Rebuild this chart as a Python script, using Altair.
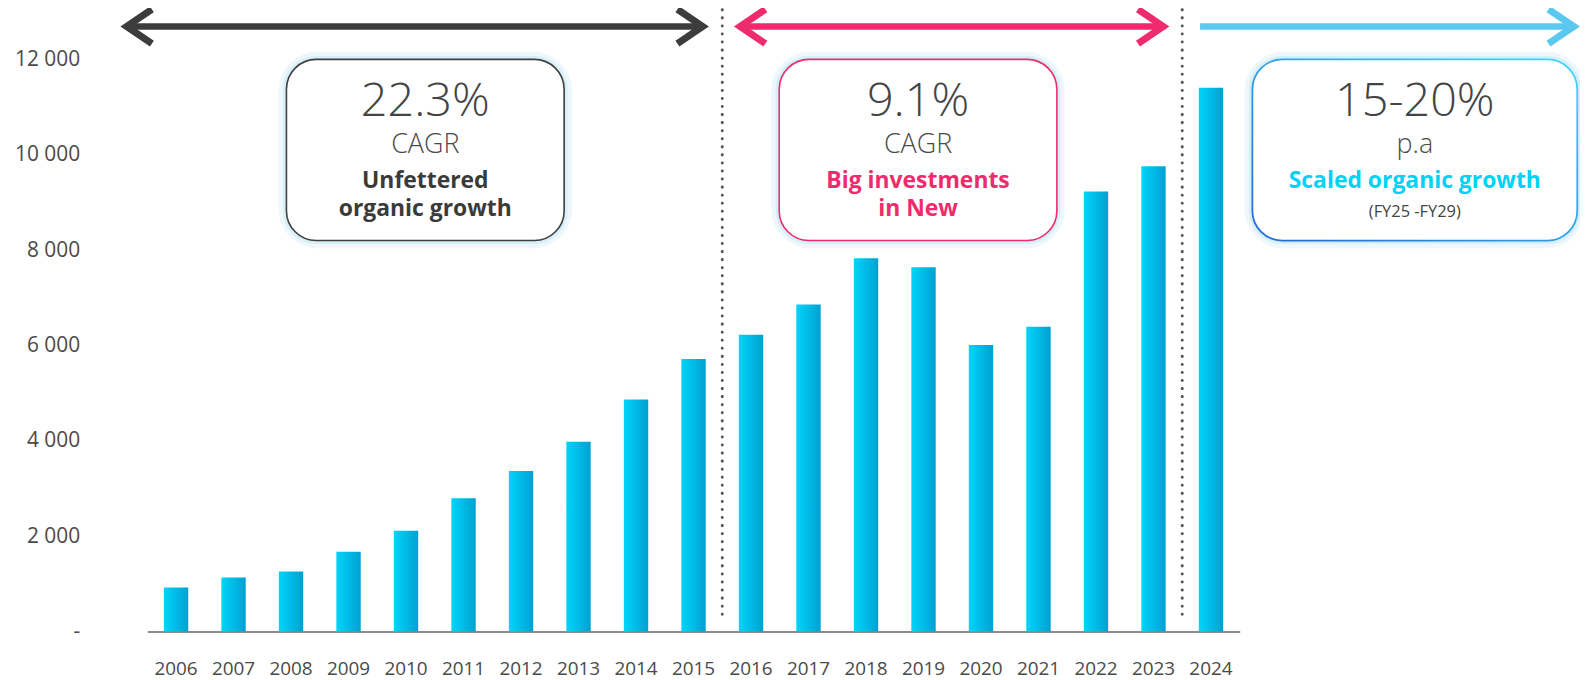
import altair as alt
import pandas as pd

# ---------------- data ----------------
years = [str(y) for y in range(2006, 2025)]
revenue = [925, 1135, 1260, 1672, 2116, 2794, 3365, 3979, 4868, 5714,
           6222, 6857, 7831, 7640, 6011, 6392, 9228, 9757, 11407]
y_ticks = [0, 2000, 4000, 6000, 8000, 10000, 12000]

# annotation geometry, expressed in axis units (years / values)
phase_dividers = [2015.5, 2023.5]
arrow_names = ["past", "invest", "future"]
arrow_start = [2005.14, 2015.81, 2023.81]
arrow_end = [2015.16, 2023.17, 2030.31]
arrow_colors = ["#3c3c3c", "#EE2B6C", "#5BC8F0"]
arrow_left_head = [True, True, False]
arrow_level = 12690

box_left = [2007.92, 2016.49, 2024.72]
box_right = [2012.75, 2021.32, 2030.37]
box_bottom = 8200
box_top = 12000
box_pct = ["22.3%", "9.1%", "15-20%"]
box_unit = ["CAGR", "CAGR", "p.a"]
box_line1 = ["Unfettered", "Big investments", "Scaled organic growth"]
box_line2 = ["organic growth", "in New", ""]
box_note = ["", "", "(FY25 -FY29)"]
box_accent = ["#3a3a3a", "#EE2B6C", "#00D2F6"]
box_border = ["#3f3f3f", "#EE2B6C", "#2E8FE0"]

pct_level = 11100
unit_level = 10210
line1_level = 9453
line2_level = 8869
note_level = 8790

FONT = "Open Sans"

# ---------------- tables ----------------
bars_df = pd.DataFrame({"year": years, "value": revenue})

div_df = pd.DataFrame({"x": phase_dividers, "y": [13040] * 2, "y2": [210] * 2})

shaft_df = pd.DataFrame({
    "name": arrow_names,
    "x": [s + 0.06 if l else s for s, l in zip(arrow_start, arrow_left_head)],
    "x2": [e - 0.06 for e in arrow_end],
    "y": [arrow_level] * 3,
    "color": arrow_colors,
})

head_len = 0.44
head_half = 360
head_rows = []
for n, s, e, c, lh in zip(arrow_names, arrow_start, arrow_end, arrow_colors, arrow_left_head):
    heads = [("R", e, -1)]
    if lh:
        heads.append(("L", s, 1))
    for side, tip, sign in heads:
        pts = [(tip + sign * head_len, arrow_level + head_half),
               (tip, arrow_level),
               (tip + sign * head_len, arrow_level - head_half)]
        for i, (px, py) in enumerate(pts):
            head_rows.append({"id": n + side, "x": px, "y": py, "o": i, "color": c})
head_df = pd.DataFrame(head_rows)

box_df = pd.DataFrame({
    "x": box_left, "x2": box_right,
    "y": [box_bottom] * 3, "y2": [box_top] * 3,
    "border": box_border,
    "cx": [(a + b) / 2 for a, b in zip(box_left, box_right)],
    "pct": box_pct, "unit": box_unit,
    "l1": box_line1, "l2": box_line2, "note": box_note,
    "accent": box_accent,
})

# ---------------- scales / axes ----------------
xq = alt.Scale(domain=[2005.5, 2024.5], nice=False, zero=False)
yq = alt.Scale(domain=[0, 13000], nice=False, zero=True)

y_axis = alt.Axis(title=None, values=y_ticks, domain=False, ticks=False,
                  tickSize=0, grid=False, labelPadding=68,
                  labelFont=FONT, labelFontSize=21, labelColor="#4a4a4a",
                  labelExpr="datum.value == 0 ? '-' : replace(format(datum.value, ','), ',', ' ')")

bar_gradient = alt.LinearGradient(
    gradient="linear", x1=0, x2=1, y1=0, y2=0,
    stops=[alt.GradientStop(color="#00D5F9", offset=0),
           alt.GradientStop(color="#00A0D2", offset=1)])

bars = alt.Chart(bars_df).mark_bar(fill=bar_gradient).encode(
    x=alt.X("year:N", sort=years,
            scale=alt.Scale(paddingInner=0.576, paddingOuter=0.288),
            axis=alt.Axis(title=None, labelAngle=0, ticks=False, tickSize=0,
                          domainColor="#666666", domainWidth=1.6,
                          labelPadding=37, labelBaseline="middle",
                          labelFont=FONT, labelFontSize=19, labelColor="#4a4a4a")),
    y=alt.Y("value:Q", scale=yq, axis=y_axis),
)

X = lambda f: alt.X(f, scale=xq, axis=None)
Y = lambda f: alt.Y(f, scale=yq, axis=y_axis)

dividers = alt.Chart(div_df).mark_rule(
    color="#555555", strokeWidth=3, strokeDash=[0.1, 8], strokeCap="round"
).encode(x=X("x:Q"), y=Y("y:Q"), y2="y2:Q")

shafts = alt.Chart(shaft_df).mark_rule(strokeWidth=6.5, strokeCap="butt").encode(
    x=X("x:Q"), x2="x2:Q", y=Y("y:Q"),
    color=alt.Color("color:N", scale=None))

heads = alt.Chart(head_df).mark_line(strokeWidth=7, strokeJoin="miter", strokeCap="butt").encode(
    x=X("x:Q"), y=Y("y:Q"), detail="id:N", order="o:Q",
    color=alt.Color("color:N", scale=None))

glow_outer = alt.Chart(box_df).mark_rect(
    cornerRadius=32, fillOpacity=0, stroke="#CDEBF6", strokeWidth=16, strokeOpacity=0.35
).encode(x=X("x:Q"), x2="x2:Q", y=Y("y:Q"), y2="y2:Q")

glow_inner = alt.Chart(box_df).mark_rect(
    cornerRadius=30, fillOpacity=0, stroke="#BFE6F4", strokeWidth=7, strokeOpacity=0.5
).encode(x=X("x:Q"), x2="x2:Q", y=Y("y:Q"), y2="y2:Q")

boxes = alt.Chart(box_df).transform_filter("datum.note == ''").mark_rect(
    cornerRadius=30, fill="white", strokeWidth=1.6
).encode(x=X("x:Q"), x2="x2:Q", y=Y("y:Q"), y2="y2:Q",
         stroke=alt.Stroke("border:N", scale=None))

border_gradient = alt.LinearGradient(
    gradient="linear", x1=0, x2=1, y1=1, y2=0,
    stops=[alt.GradientStop(color="#2468D4", offset=0),
           alt.GradientStop(color="#3ED9F9", offset=1)])

box_future = alt.Chart(box_df).transform_filter("datum.note != ''").mark_rect(
    cornerRadius=30, fill="white", strokeWidth=1.8, stroke=border_gradient
).encode(x=X("x:Q"), x2="x2:Q", y=Y("y:Q"), y2="y2:Q")

pct_text = alt.Chart(box_df).transform_calculate(ty=str(pct_level)).mark_text(
    font=FONT, fontSize=47, fontWeight=300, color="#444444", baseline="middle"
).encode(x=X("cx:Q"), y=Y("ty:Q"), text="pct:N")

unit_text = alt.Chart(box_df).transform_calculate(ty=str(unit_level)).mark_text(
    font=FONT, fontSize=27, fontWeight=300, color="#4a4a4a", baseline="middle"
).encode(x=X("cx:Q"), y=Y("ty:Q"), text="unit:N")

l1_text = alt.Chart(box_df).transform_calculate(ty=str(line1_level)).mark_text(
    font=FONT, fontSize=23, fontWeight="bold", baseline="middle"
).encode(x=X("cx:Q"), y=Y("ty:Q"), text="l1:N",
         color=alt.Color("accent:N", scale=None))

l2_text = alt.Chart(box_df).transform_calculate(ty=str(line2_level)).mark_text(
    font=FONT, fontSize=23, fontWeight="bold", baseline="middle"
).encode(x=X("cx:Q"), y=Y("ty:Q"), text="l2:N",
         color=alt.Color("accent:N", scale=None))

note_text = alt.Chart(box_df).transform_calculate(ty=str(note_level)).mark_text(
    font=FONT, fontSize=16.5, color="#444444", baseline="middle"
).encode(x=X("cx:Q"), y=Y("ty:Q"), text="note:N")

annotations = alt.layer(dividers, shafts, heads, glow_outer, glow_inner, boxes,
                        box_future, pct_text, unit_text, l1_text, l2_text, note_text)

chart = alt.layer(bars, annotations).resolve_scale(x="independent").properties(
    width=1098, height=623,
    autosize=alt.AutoSizeParams(type="none"),
    padding={"left": 140, "top": 2, "right": 342, "bottom": 47},
    background="white",
).configure_view(stroke=None)

chart.save("out.html", embed_options={"renderer": "svg", "actions": False})
